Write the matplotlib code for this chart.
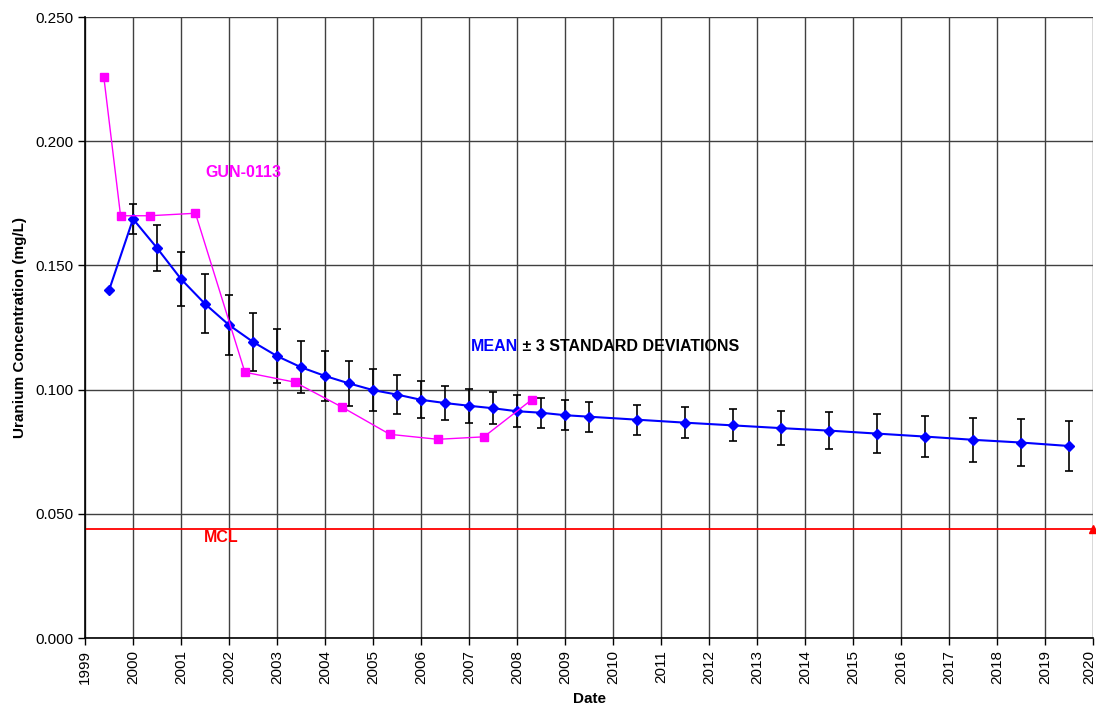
import matplotlib.pyplot as plt
import matplotlib.transforms as mtransforms
from matplotlib.ticker import FormatStrFormatter, MultipleLocator

plt.rcParams['font.family'] = ['Liberation Sans', 'DejaVu Sans']

# mean +/- 3 std dev (decimal years)
mean_dates = [1999.5, 2000.0, 2000.5, 2001.0, 2001.5, 2002.0, 2002.5, 2003.0, 2003.5,
              2004.0, 2004.5, 2005.0, 2005.5, 2006.0, 2006.5, 2007.0, 2007.5, 2008.0,
              2008.5, 2009.0, 2009.5, 2010.5, 2011.5, 2012.5, 2013.5, 2014.5, 2015.5,
              2016.5, 2017.5, 2018.5, 2019.5]
mean_vals = [0.140, 0.1687, 0.157, 0.1445, 0.1345, 0.126, 0.1192, 0.1135, 0.109,
             0.1055, 0.1025, 0.0998, 0.098, 0.0959, 0.0946, 0.0935, 0.0925, 0.0913,
             0.0907, 0.0897, 0.0891, 0.0879, 0.0867, 0.0856, 0.0845, 0.0835, 0.0823,
             0.0811, 0.0798, 0.0787, 0.0773]
mean_err = [0.0, 0.006, 0.0093, 0.011, 0.0119, 0.0119, 0.0116, 0.0109, 0.0105,
            0.0099, 0.0091, 0.0086, 0.0079, 0.0074, 0.007, 0.0068, 0.0065, 0.0064,
            0.006, 0.006, 0.006, 0.006, 0.0062, 0.0064, 0.0069, 0.0073, 0.0078,
            0.0084, 0.0089, 0.0095, 0.0099]

# well GUN-0113
gun_dates = [1999.39, 1999.74, 2000.35, 2001.30, 2002.33, 2003.37, 2004.35,
             2005.35, 2006.35, 2007.31, 2008.31]
gun_vals = [0.226, 0.170, 0.170, 0.171, 0.107, 0.103, 0.093, 0.082, 0.080, 0.081, 0.096]

mcl = 0.044
years = list(range(1999, 2021))

fig = plt.figure(figsize=(10.96, 7.09), dpi=100)
ax = fig.add_axes([0.0776, 0.1001, 0.9197, 0.8759])

# error bars (skip the first point, it has none)
ax.errorbar(mean_dates[1:], mean_vals[1:], yerr=mean_err[1:], fmt='none',
            ecolor='black', elinewidth=1.2, capsize=3, capthick=1.2, zorder=3)
ax.plot(mean_dates, mean_vals, color='#0000ff', lw=1.5, marker='D', ms=5,
        zorder=4)
ax.plot(gun_dates, gun_vals, color='#ff00ff', lw=1, marker='s', ms=6, zorder=5)

ax.axhline(mcl, color='#ff0000', lw=1.3, zorder=2)
ax.plot([2020], [mcl], marker='^', color='#ff0000', ms=6, clip_on=False, zorder=6)

ax.text(2001.5, 0.1876, 'GUN-0113', color='#ff00ff', fontsize=11.5, fontweight='bold',
        va='center')
ax.text(2001.48, 0.0403, 'MCL', color='#ff0000', fontsize=11.5, fontweight='bold',
        va='center')
t = ax.text(2007.04, 0.1175, 'MEAN', color='#0000ff', fontsize=11.5, fontweight='bold',
            va='center')
ax.annotate(' \u00b1 3 STANDARD DEVIATIONS', xy=(1, 0.5), xycoords=t, va='center',
            ha='left', color='black', fontsize=11.5, fontweight='bold')

ax.set_xlim(1999, 2020)
ax.set_ylim(0, 0.25)
ax.set_xticks(years)
ax.set_xticklabels([str(y) for y in years], rotation=90, fontsize=11)
ax.yaxis.set_major_locator(MultipleLocator(0.05))
ax.yaxis.set_major_formatter(FormatStrFormatter('%.3f'))
ax.tick_params(axis='y', labelsize=11, length=5, width=1, direction='out')
ax.tick_params(axis='x', length=5, width=1, direction='out')
ax.grid(True, color='#404040', lw=1)
ax.set_axisbelow(True)
for s in ['top', 'right']:
    ax.spines[s].set_visible(False)
for s in ['left', 'bottom']:
    ax.spines[s].set_linewidth(1.2)

# keep the last year label inside the picture
last = ax.get_xticklabels()[-1]
last.set_transform(last.get_transform() +
                   mtransforms.ScaledTranslation(-4 / 100, 0, fig.dpi_scale_trans))

ax.set_xlabel('Date', fontsize=11, fontweight='bold', labelpad=6)
ax.set_ylabel('Uranium Concentration (mg/L)', fontsize=11, fontweight='bold',
              labelpad=6)

fig.savefig('out.png', dpi=100)
